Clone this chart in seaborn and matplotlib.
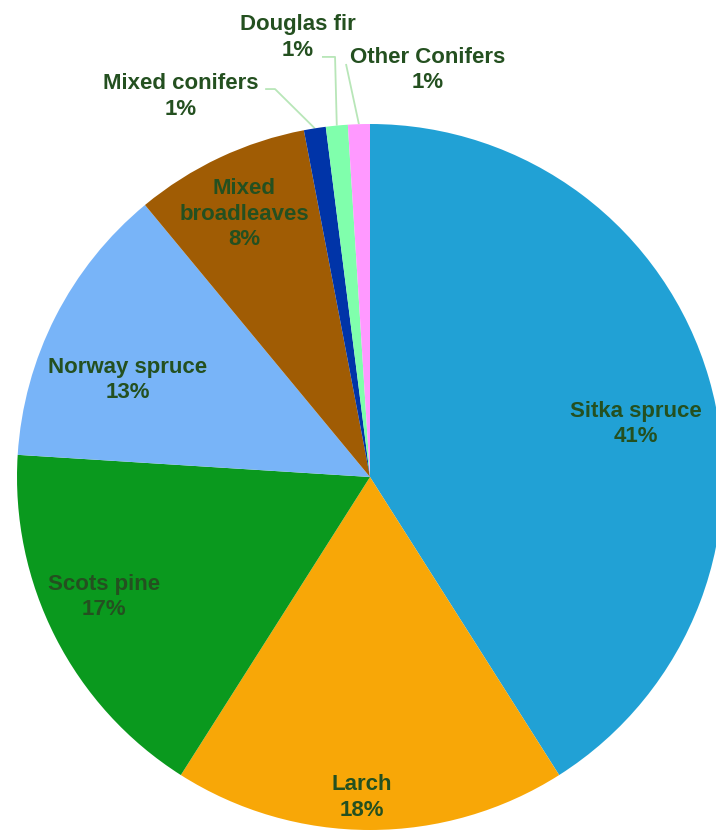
import matplotlib
matplotlib.use("Agg")
import matplotlib.pyplot as plt
import seaborn as sns
import numpy as np

# Share of woodland area by species
species = ["Sitka spruce", "Larch", "Scots pine", "Norway spruce",
           "Mixed\nbroadleaves", "Mixed conifers", "Douglas fir", "Other Conifers"]
shares = [41, 18, 17, 13, 8, 1, 1, 1]
colours = ["#21A1D5", "#F8A707", "#0A991E", "#78B4F8",
           "#A05C04", "#0034A8", "#80FFAC", "#FF99FF"]

sns.set_theme(style="white")
plt.rcParams["font.family"] = ["Liberation Sans", "DejaVu Sans"]

TEXT_COLOUR = "#245020"
LEADER_COLOUR = "#B8E6B8"

# label centres (pie radius = 1, centre at origin)
label_pos = [(0.754, 0.150), (-0.023, -0.907), (-0.753, -0.340), (-0.686, 0.275),
             (-0.357, 0.745), (-0.535, 1.079), (-0.204, 1.246), (0.164, 1.153)]
# leader line paths for the small outside slices (from label side toward the slice)
leaders = {5: [(-0.297, 1.099), (-0.269, 1.099)],
           6: [(-0.136, 1.190), (-0.099, 1.190)],
           7: [(-0.068, 1.170)]}

fig = plt.figure(figsize=(7.16, 8.30), dpi=100)
ax = fig.add_axes([0, 0, 1, 1])

wedges, _ = ax.pie(shares, colors=colours, startangle=90, counterclock=False,
                   radius=1.0, center=(0, 0), wedgeprops=dict(linewidth=0))

for i, (w, name, val) in enumerate(zip(wedges, species, shares)):
    x, y = label_pos[i]
    ax.text(x, y, f"{name}\n{val}%", ha="center", va="center",
            multialignment="center", fontsize=16, fontweight="bold",
            color=TEXT_COLOUR, linespacing=1.3)
    if i in leaders:
        mid = np.deg2rad((w.theta1 + w.theta2) / 2)
        pts = leaders[i] + [(np.cos(mid), np.sin(mid))]
        xs, ys = zip(*pts)
        ax.plot(xs, ys, color=LEADER_COLOUR, lw=1.3, solid_capstyle="butt", zorder=0.5)

ax.set_xlim(-370 / 353, 346 / 353)
ax.set_ylim(-353 / 353, 477 / 353)
ax.set_aspect("auto")
ax.axis("off")

fig.savefig("out.png", dpi=100, facecolor="white")
